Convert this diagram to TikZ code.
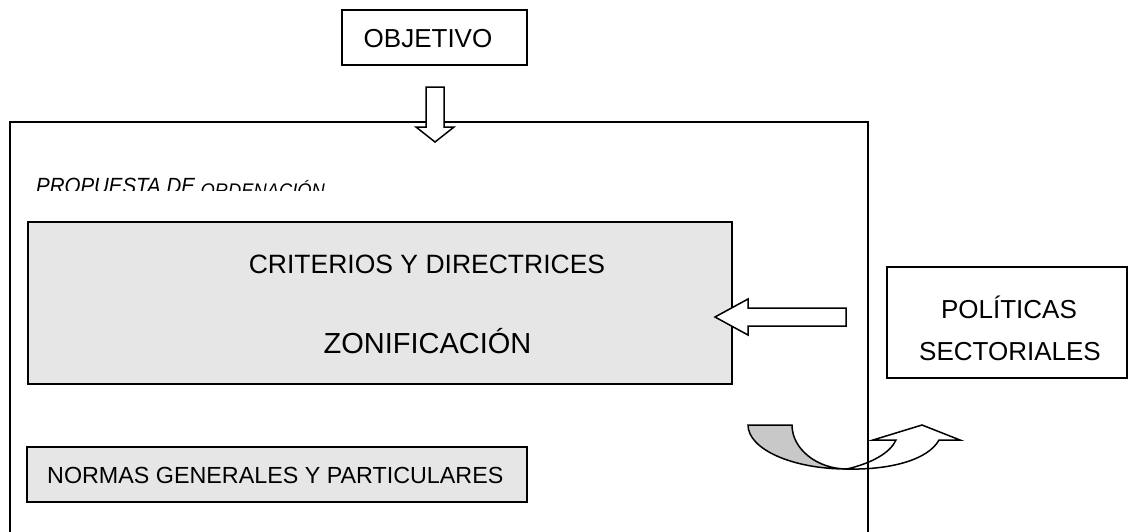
\documentclass[tikz,border=0pt]{standalone}
\usepackage{fontspec}
\setmainfont{Liberation Sans}
\usetikzlibrary{positioning}

\definecolor{boxgray}{HTML}{E6E6E6}
\definecolor{tailgray}{HTML}{C8C8C8}

\tikzset{
  box/.style={draw, line width=1.7pt, inner sep=0pt},
  graybox/.style={box, fill=boxgray},
  txt/.style={inner sep=0pt, anchor=base, font=\fontsize{26}{30}\selectfont},
  blockarrow/.style={draw, line width=1.5pt, fill=white, line join=miter},
}

\begin{document}
\begin{tikzpicture}[x=1pt,y=-1pt]
  \useasboundingbox (0,0) rectangle (1128,531);
  \clip (0,0) rectangle (1128,531);

  % frame of the proposal
  \draw[line width=1.7pt] (10,560) |- (868,122) -- (868,560);
  \begin{scope}
    \clip (10,150) rectangle (868,190.5);
    \node[anchor=base west, inner sep=0pt, font=\fontsize{22}{26}\selectfont\itshape] (propuesta) at (36,193.8)
      {\scalebox{0.93}[1]{PROPUESTA DE \raisebox{-3.5pt}{\fontsize{19.7}{24}\selectfont ORDENACIÓN}}};
  \end{scope}

  % boxes
  \node[box, minimum width=185pt, minimum height=55pt] (objetivo) at (434.5,37.5) {};
  \node[txt] (objetivotxt) at (428,47) {OBJETIVO};

  \node[graybox, minimum width=704pt, minimum height=162pt] (criterios) at (380,303) {};
  \node[txt, font=\fontsize{26.5}{30}\selectfont] (criteriostxt) at (427,273) {CRITERIOS Y DIRECTRICES};
  \node[txt, font=\fontsize{29}{33}\selectfont] (zonificacion) at (427.5,353) {ZONIFICACIÓN};

  \node[graybox, minimum width=500pt, minimum height=55pt] (normas) at (277,474.5) {};
  \node[txt, anchor=base west, font=\fontsize{23.3}{28}\selectfont] (normastxt) at (47,483) {NORMAS GENERALES Y PARTICULARES};

  \node[box, minimum width=240pt, minimum height=111pt] (politicas) at (1007,322.5) {};
  \node[txt] (politicastxt) at (1009,318) {POLÍTICAS};
  \node[txt] (sectorialestxt) at (1010,360) {SECTORIALES};

  % block arrows
  \draw[blockarrow] (426,87) -- (444,87) -- (444,127) -- (454,127) -- (435,142) -- (416,127) -- (426,127) -- cycle;
  \draw[blockarrow] (846,308) -- (748,308) -- (748,299) -- (715,317) -- (748,335) -- (748,326) -- (846,326) -- cycle;

  % curved arrow
  \draw[blockarrow, fill=tailgray] (748,425) -- (792,425)
    .. controls (792,449) and (817,469) .. (847,469)
    .. controls (792,469) and (748,449) .. (748,425) -- cycle;
  \draw[blockarrow] (847,469) .. controls (872,463) and (890,453) .. (896,440)
    -- (873,440) -- (922,425) -- (960,440) -- (939,440)
    .. controls (928,460) and (890,470) .. (847,469) -- cycle;
  \draw[line width=1.7pt] (868,122) -- (868,560);
\end{tikzpicture}
\end{document}
